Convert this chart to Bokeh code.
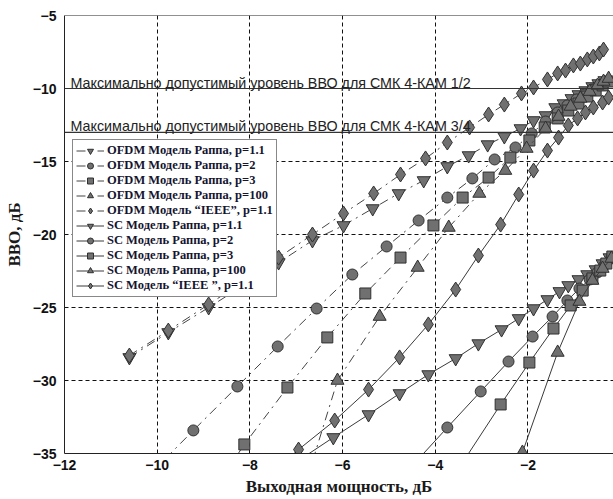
from bokeh.plotting import figure
from bokeh.models import Span, Label, Legend, LegendItem, FixedTicker
from bokeh.embed import file_html
from bokeh.resources import INLINE

# ---- data ----
ofdm_ieee_x = [-10.60, -9.76, -8.89, -8.14, -7.38, -6.65, -5.98, -5.33, -4.75, -4.21, -3.74, -3.26, -2.85, -2.51, -2.14, -1.88, -1.58, -1.36, -1.19, -1.02, -0.87, -0.72, -0.59, -0.46, -0.37]
ofdm_ieee_y = [-28.29, -26.58, -24.79, -23.22, -21.58, -20.00, -18.56, -17.19, -15.89, -14.79, -13.70, -12.67, -11.78, -11.10, -10.34, -9.93, -9.38, -8.97, -8.77, -8.42, -8.29, -8.01, -7.81, -7.60, -7.33]

ofdm_p11_x = [-10.60, -9.76, -8.89, -8.14, -7.38, -6.65, -5.98, -5.35, -4.79, -4.25, -3.74, -3.28, -2.87, -2.51, -2.16, -1.88, -1.62, -1.41, -1.23, -1.06, -0.91, -0.76, -0.61, -0.48, -0.35]
ofdm_p11_y = [-28.42, -26.71, -25.00, -23.49, -21.92, -20.41, -19.38, -18.22, -17.19, -16.30, -15.34, -14.59, -13.84, -13.29, -12.74, -12.19, -11.85, -11.30, -11.03, -10.68, -10.41, -10.14, -9.86, -9.66, -9.45]

ofdm_p2_x = [-10.14, -9.22, -8.27, -7.40, -6.56, -5.79, -5.05, -4.36, -3.74, -3.20, -2.72, -2.27, -1.92, -1.62, -1.36, -1.15, -0.95, -0.78, -0.61, -0.46, -0.33]
ofdm_p2_y = [-36.37, -33.42, -30.41, -27.67, -25.07, -22.74, -20.82, -19.04, -17.47, -16.16, -14.86, -14.04, -13.08, -12.26, -11.64, -11.16, -10.75, -10.41, -10.07, -9.79, -9.59]

ofdm_p3_x = [-9.00, -8.12, -7.19, -6.33, -5.51, -4.75, -4.04, -3.41, -2.85, -2.38, -1.97, -1.64, -1.36, -1.13, -0.91, -0.72, -0.54, -0.39, -0.26]
ofdm_p3_y = [-38.56, -34.38, -30.48, -27.05, -24.04, -21.58, -19.38, -17.47, -16.10, -14.73, -13.56, -12.67, -12.05, -11.51, -11.03, -10.55, -10.14, -9.79, -9.52]

ofdm_p100_x = [-6.91, -6.11, -5.20, -4.38, -3.71, -3.05, -2.49, -2.03, -1.62, -1.34, -1.08, -0.87, -0.67, -0.50, -0.37, -0.26]
ofdm_p100_y = [-38.22, -30.00, -25.62, -22.26, -19.52, -17.19, -15.62, -14.11, -12.74, -11.92, -11.23, -10.68, -10.21, -9.79, -9.52, -9.32]

sc_p11_x = [-6.95, -6.20, -5.44, -4.77, -4.15, -3.56, -3.07, -2.57, -2.20, -1.88, -1.58, -1.32, -1.13, -0.91, -0.72, -0.54, -0.39, -0.24]
sc_p11_y = [-35.48, -33.90, -32.33, -30.89, -29.59, -28.49, -27.47, -26.51, -25.75, -25.07, -24.45, -23.90, -23.49, -23.08, -22.74, -22.40, -21.99, -21.58]

sc_p2_x = [-4.45, -3.74, -3.02, -2.42, -1.90, -1.47, -1.15, -0.89, -0.67, -0.50, -0.35, -0.20]
sc_p2_y = [-35.68, -33.22, -30.75, -28.70, -26.99, -25.62, -24.52, -23.70, -23.08, -22.60, -22.12, -21.64]

sc_p3_x = [-3.41, -2.59, -1.97, -1.45, -1.08, -0.82, -0.61, -0.44, -0.31, -0.18]
sc_p3_y = [-35.62, -31.64, -28.77, -26.44, -24.86, -23.84, -23.01, -22.47, -21.99, -21.51]

sc_p100_x = [-2.12, -1.36, -0.89, -0.61, -0.39, -0.20]
sc_p100_y = [-34.93, -28.08, -24.59, -23.15, -22.33, -21.64]

sc_ieee_x = [-7.73, -6.95, -6.17, -5.44, -4.77, -4.15, -3.56, -3.07, -2.59, -2.20, -1.88, -1.58, -1.34, -1.13, -0.93, -0.76, -0.59, -0.39, -0.26]
sc_ieee_y = [-36.85, -34.73, -32.74, -30.62, -28.42, -26.16, -23.77, -21.44, -19.32, -17.26, -15.62, -14.25, -13.36, -12.53, -12.05, -11.64, -11.30, -10.96, -10.62]

limit_levels = [-10, -13]
limit_texts = ["Максимально допустимый уровень ВВО для СМК 4-КАМ 1/2",
               "Максимально допустимый уровень ВВО для СМК 4-КАМ 3/4"]

x_ticks = [-12, -10, -8, -6, -4, -2]
y_ticks = [-35, -30, -25, -20, -15, -10, -5]
x_grid = [-10, -8, -6, -4, -2]
y_grid = [-30, -25, -20, -15]

series = [
    ("OFDM Модель Раппа, p=1.1", ofdm_p11_x, ofdm_p11_y, "inverted_triangle", "ofdm"),
    ("OFDM Модель Раппа, p=2", ofdm_p2_x, ofdm_p2_y, "circle", "ofdm"),
    ("OFDM Модель Раппа, p=3", ofdm_p3_x, ofdm_p3_y, "square", "ofdm"),
    ("OFDM Модель Раппа, p=100", ofdm_p100_x, ofdm_p100_y, "triangle", "ofdm"),
    ("OFDM Модель “IEEE”, p=1.1", ofdm_ieee_x, ofdm_ieee_y, "diamond", "ofdm"),
    ("SC Модель Раппа, p=1.1", sc_p11_x, sc_p11_y, "inverted_triangle", "sc"),
    ("SC Модель Раппа, p=2", sc_p2_x, sc_p2_y, "circle", "sc"),
    ("SC Модель Раппа, p=3", sc_p3_x, sc_p3_y, "square", "sc"),
    ("SC Модель Раппа, p=100", sc_p100_x, sc_p100_y, "triangle", "sc"),
    ("SC Модель “IEEE ”, p=1.1", sc_ieee_x, sc_ieee_y, "diamond", "sc"),
]

marker_size = {"inverted_triangle": 13, "triangle": 13, "circle": 11, "square": 11, "diamond": 15}

p = figure(width=613, height=499, output_backend="svg", toolbar_location=None,
           x_range=(-12, -0.155), y_range=(-35, -5),
           min_border_left=64, min_border_right=0, min_border_top=15, min_border_bottom=46)
p.background_fill_color = "white"
p.border_fill_color = "white"
p.outline_line_color = None

# grid
p.xgrid.ticker = FixedTicker(ticks=x_grid)
p.ygrid.ticker = FixedTicker(ticks=y_grid)
for g in (p.xgrid, p.ygrid):
    g.grid_line_color = "#111111"
    g.grid_line_dash = "4 3"
    g.grid_line_width = 1

# axes
p.xaxis.ticker = FixedTicker(ticks=x_ticks)
p.yaxis.ticker = FixedTicker(ticks=y_ticks)
for ax in (p.xaxis, p.yaxis):
    ax.axis_line_color = "#222222"
    ax.major_tick_in = 0
    ax.major_tick_out = 0
    ax.minor_tick_line_color = None
    ax.major_label_text_font = "Liberation Sans"
    ax.major_label_text_font_style = "bold"
    ax.major_label_text_font_size = "14px"
    ax.major_label_text_color = "#111111"
    ax.axis_label_text_font = "Liberation Serif"
    ax.axis_label_text_font_style = "bold"
    ax.axis_label_text_font_size = "17px"
    ax.axis_label_text_color = "#1a1a1a"
p.xaxis.axis_label = "Выходная мощность, дБ"
p.yaxis.axis_label = "ВВО, дБ"
p.xaxis.major_label_standoff = 6
p.xaxis.axis_label_standoff = 4
p.yaxis.major_label_standoff = 8
p.yaxis.axis_label_standoff = 6

# top border
p.add_layout(Span(location=-5, dimension="width", line_color="#222222", line_width=1))

# limit lines and their captions
for lvl, txt in zip(limit_levels, limit_texts):
    p.add_layout(Span(location=lvl, dimension="width", line_color="#333333", line_width=1.2))
    p.add_layout(Label(x=-11.87, y=lvl, y_offset=6, text=txt, text_baseline="alphabetic",
                       text_font="Liberation Sans", text_font_size="14.3px", text_color="#222222"))

items = []
for name, xs, ys, marker, kind in series:
    if kind == "ofdm":
        ln = p.line(xs, ys, line_color="#444444", line_width=1, line_dash="9 5 2 5")
    else:
        ln = p.line(xs, ys, line_color="#3a3a3a", line_width=1)
    sc = p.scatter(xs, ys, marker=marker, size=marker_size[marker],
                   fill_color="#707070", line_color="#303030", line_width=1)
    items.append(LegendItem(label=name, renderers=[ln, sc]))

legend = Legend(items=items, location=(8, 156), orientation="vertical",
                label_text_font="Liberation Serif", label_text_font_style="bold",
                label_text_font_size="12.5px", label_text_color="#151530",
                glyph_width=28, glyph_height=15, label_height=15, label_standoff=3,
                spacing=0, padding=3, margin=0,
                border_line_color="#111111", border_line_width=1,
                background_fill_color="white", background_fill_alpha=1)
p.add_layout(legend, "center")

open("out.html", "w").write(file_html(p, INLINE))
